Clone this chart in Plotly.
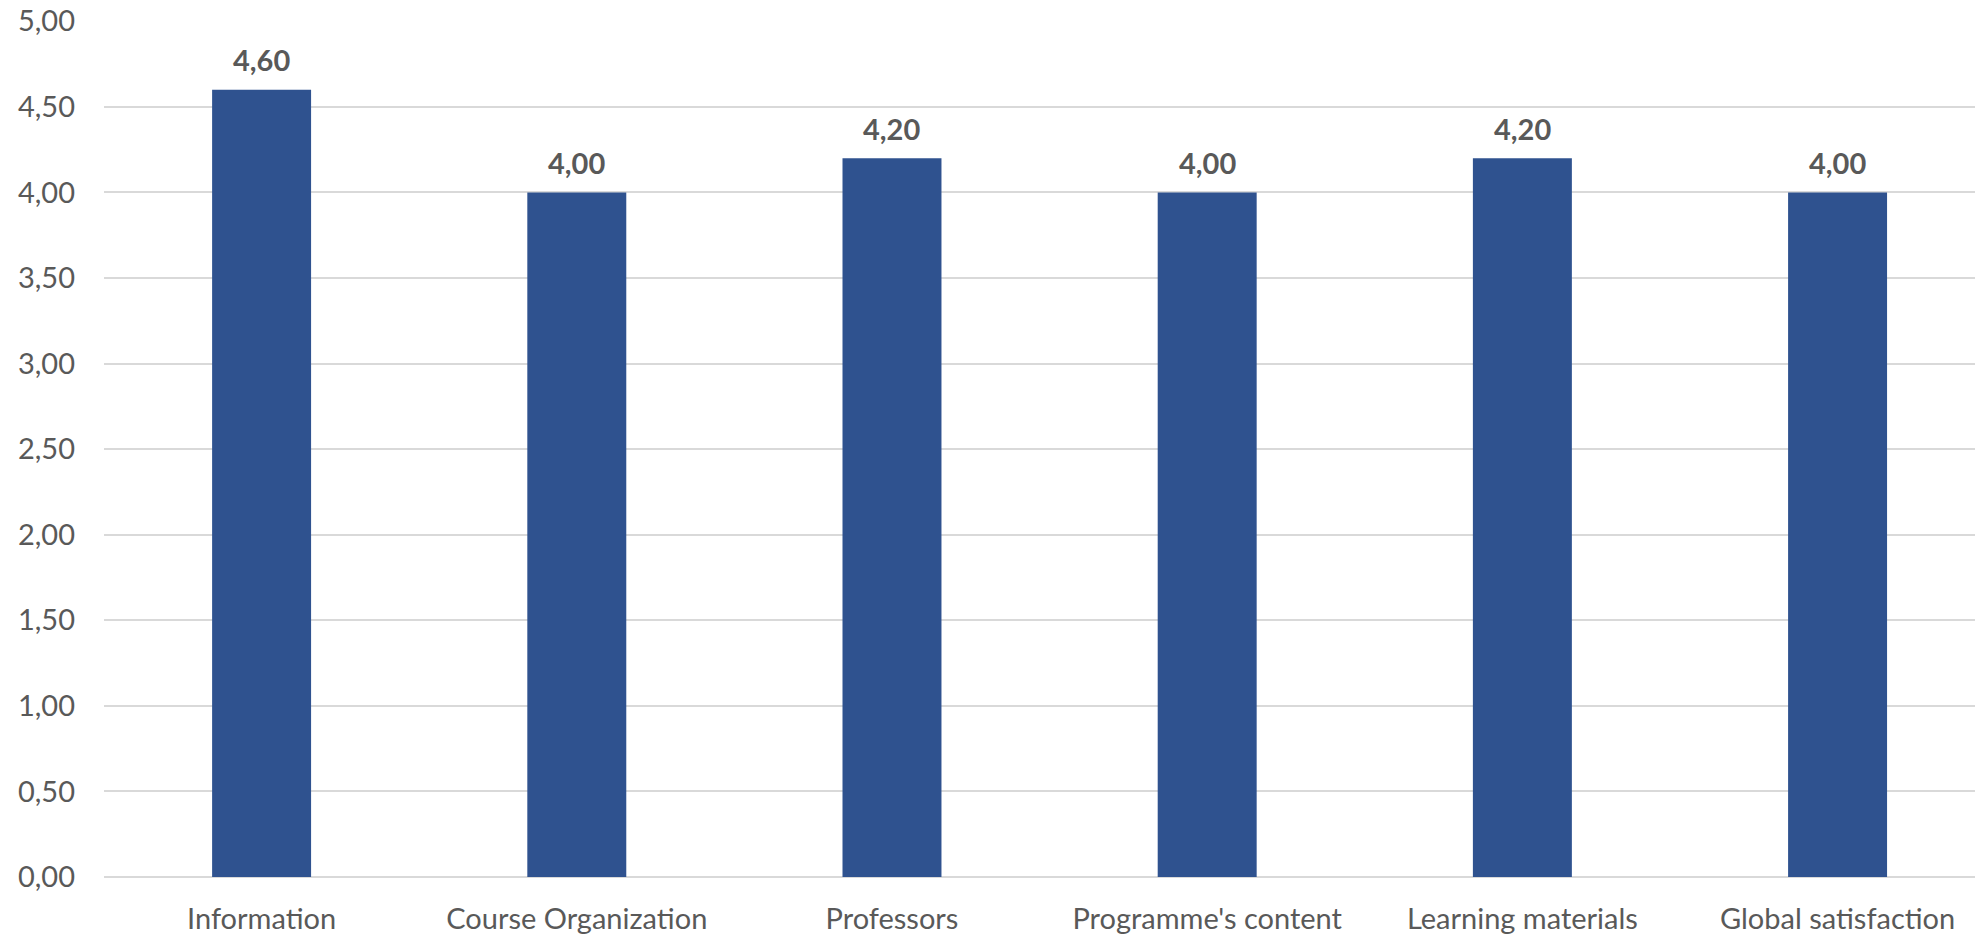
import plotly.graph_objects as go

categories = ["Information", "Course Organization", "Professors",
              "Programme's content", "Learning materials", "Global satisfaction"]
values = [4.60, 4.00, 4.20, 4.00, 4.20, 4.00]
y_ticks = [0, 0.5, 1, 1.5, 2, 2.5, 3, 3.5, 4, 4.5, 5]

FONT = "Lato"
GREY = "#595959"

fig = go.Figure()
fig.add_trace(go.Bar(
    x=categories, y=values, width=0.314,
    marker=dict(color="#2F528F", line=dict(width=0)),
    hoverinfo="skip",
))

for c, v in zip(categories, values):
    fig.add_annotation(
        x=c, y=v, text="<b>" + f"{v:.2f}".replace(".", ",") + "</b>",
        showarrow=False, yanchor="middle", yshift=30,
        font=dict(family=FONT, size=29, color=GREY),
    )

fig.update_layout(
    width=1975, height=934,
    margin=dict(l=104, r=0, t=21, b=57),
    paper_bgcolor="white", plot_bgcolor="white",
    separators=",.",
    showlegend=False,
    font=dict(family=FONT, color=GREY, size=29),
    xaxis=dict(
        type="category", range=[-0.5, 5.436], automargin=False,
        showgrid=False, showline=False, zeroline=False,
        ticks="", tickfont=dict(family=FONT, size=29, color=GREY),
        ticklabelstandoff=22,
    ),
    yaxis=dict(
        range=[0, 5.002], tickvals=y_ticks, tickformat=".2f", automargin=False,
        showgrid=True, gridcolor="#D9D9D9", gridwidth=1.5,
        zeroline=True, zerolinecolor="#D9D9D9", zerolinewidth=1.5,
        showline=False, ticks="",
        tickfont=dict(family=FONT, size=29, color=GREY),
        ticklabelstandoff=28, ticklabeloverflow="allow",
    ),
)

fig.write_html("out.html", config={"displayModeBar": False},
               post_script="document.body.style.margin='0';")
